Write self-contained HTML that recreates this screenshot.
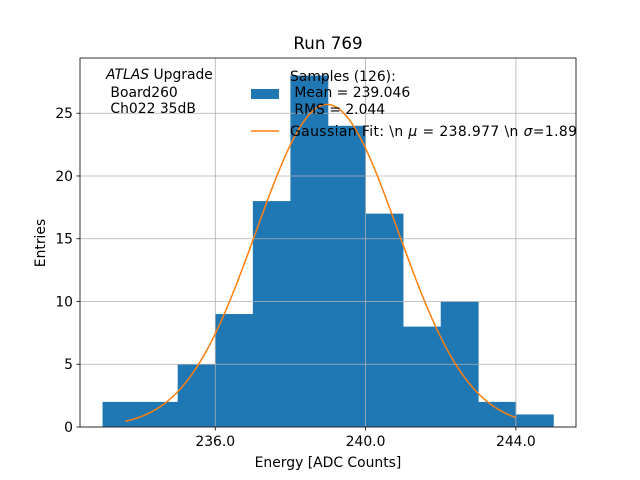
<!DOCTYPE html>
<html><head><meta charset="utf-8"><style>body{margin:0;background:#fff}svg{display:block;font-family:"DejaVu Sans","Liberation Sans",sans-serif}text{white-space:pre}</style></head>
<body>
<svg id="chart" width="640" height="480" xmlns="http://www.w3.org/2000/svg">
<rect width="640" height="480" fill="#fff"/>
<g id="grid"></g><g id="bars"></g><g id="fit"></g><g id="axes"></g>
<text x="328" y="49" font-size="16.7" text-anchor="middle">Run 769</text>
<text x="328" y="467" font-size="13.9" text-anchor="middle">Energy [ADC Counts]</text>
<text transform="translate(45,243) rotate(-90)" font-size="13.9" text-anchor="middle">Entries</text>
<g font-size="13.9">
<text x="106" y="79"><tspan font-style="italic">ATLAS</tspan> Upgrade</text>
<text x="106" y="97"> Board260</text>
<text x="106" y="113"> Ch022 35dB</text>
</g>
<g font-size="13.9">
<text x="290" y="81">Samples (126):</text>
<rect x="251" y="89" width="28" height="10" fill="#1f77b4"/>
<text x="290" y="97"> Mean = 239.046</text>
<text x="290" y="114"> RMS = 2.044</text>
<line x1="251" y1="131" x2="279" y2="131" stroke="#ff7f0e" stroke-width="1.5"/>
<text x="290" y="136" textLength="287" lengthAdjust="spacing">Gaussian Fit: \n <tspan font-style="italic">μ</tspan> = 238.977 \n <tspan font-style="italic">σ</tspan>=1.89</text>
</g>
</svg>
<script>
const binStarts=[233,234,235,236,237,238,239,240,241,242,243,244];
const counts=[2,2,5,9,18,28,24,17,8,10,2,1];
const xTicks=[236,240,244];
const xTickLabels=["236.0","240.0","244.0"];
const yTicks=[0,5,10,15,20,25];
const fitMean=238.977, fitSigma=1.89, fitAmp=25.7, fitStart=233.6, fitEnd=244;
const X0=80,X1=576,Y0=427,Y1=58,xmin=232.4,xmax=245.6,ymin=0,ymax=29.4;
const sx=v=>X0+(v-xmin)/(xmax-xmin)*(X1-X0);
const sy=v=>Y0-(v-ymin)/(ymax-ymin)*(Y0-Y1);
const NS="http://www.w3.org/2000/svg";
function mk(t,a,p){const e=document.createElementNS(NS,t);for(const k in a)e.setAttribute(k,a[k]);p.appendChild(e);return e;}
const bars=document.getElementById('bars');
binStarts.forEach((b,i)=>{const r=mk('rect',{x:sx(b),y:sy(counts[i]),width:sx(b+1)-sx(b)+0.3,height:sy(0)-sy(counts[i]),fill:'#1f77b4'},bars);

});
const axes=document.getElementById('axes');
xTicks.forEach((t,i)=>{mk('line',{x1:sx(t),x2:sx(t),y1:Y1,y2:Y0,stroke:'#b0b0b0','stroke-width':0.8},bars);
mk('line',{x1:sx(t),x2:sx(t),y1:Y0,y2:Y0+3.5,stroke:'#000','stroke-width':0.8},axes);
const tx=mk('text',{x:sx(t),y:Y0+19,'font-size':13.9,'text-anchor':'middle'},axes);tx.textContent=xTickLabels[i];

});
yTicks.forEach(t=>{mk('line',{x1:X0,x2:X1,y1:sy(t),y2:sy(t),stroke:'#b0b0b0','stroke-width':0.8},bars);
mk('line',{x1:X0-3.5,x2:X0,y1:sy(t),y2:sy(t),stroke:'#000','stroke-width':0.8},axes);
const tx=mk('text',{x:X0-7,y:sy(t)+5,'font-size':13.9,'text-anchor':'end'},axes);tx.textContent=t;

});
mk('rect',{x:X0,y:Y1,width:X1-X0,height:Y0-Y1,fill:'none',stroke:'#000','stroke-width':0.8},axes);
let d='';for(let i=0;i<=200;i++){const v=fitStart+(fitEnd-fitStart)*i/200;const y=fitAmp*Math.exp(-0.5*((v-fitMean)/fitSigma)**2);d+=(i?'L':'M')+sx(v).toFixed(2)+','+sy(y).toFixed(2);}
const p=mk('path',{d:d,fill:'none',stroke:'#ff7f0e','stroke-width':1.5},document.getElementById('fit'));


</script>
</body></html>
